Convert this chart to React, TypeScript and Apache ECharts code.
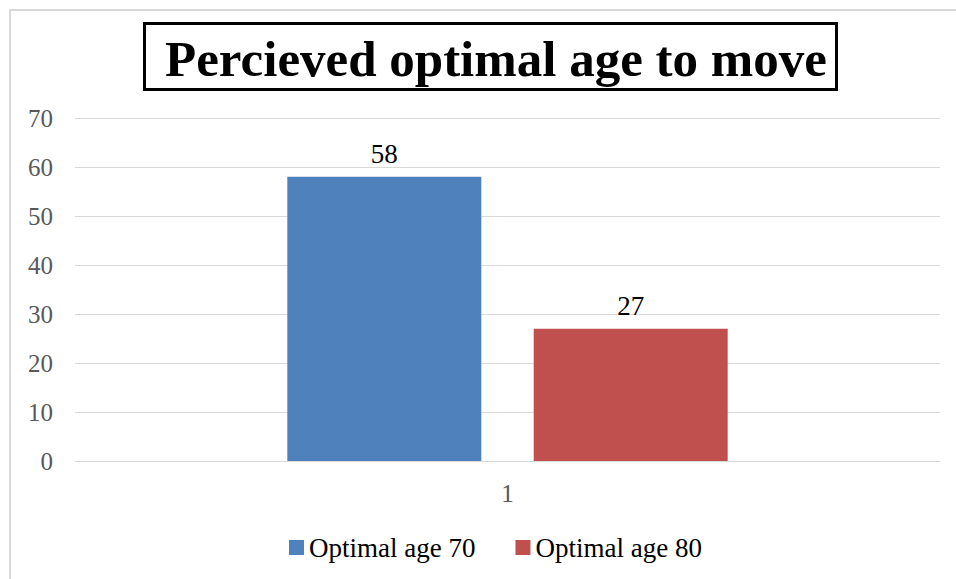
import React, { useEffect, useRef } from "react";
import * as echarts from "echarts";

const titleText = "Percieved optimal age to move";
const categories = ["1"];
const seriesNames = ["Optimal age 70", "Optimal age 80"];
const age70Values = [58];
const age80Values = [27];
const yTicks = { min: 0, max: 70, interval: 10 };

const SERIF = "'Liberation Serif', 'DejaVu Serif', serif";

export default function App() {
  const ref = useRef<HTMLDivElement>(null);

  useEffect(() => {
    if (!ref.current) return;
    const chart = echarts.init(ref.current, undefined, { renderer: "svg" });
    chart.setOption({
      animation: false,
      backgroundColor: "#ffffff",
      title: {
        text: titleText,
        left: 491,
        top: 28,
        textAlign: "center",
        textStyle: {
          fontFamily: SERIF,
          fontWeight: "bold",
          fontSize: 51,
          color: "#000000",
        },
      },
      graphic: [
        {
          type: "rect",
          shape: { x: 10, y: 10, width: 960, height: 600 },
          style: { fill: "none", stroke: "#d9d9d9", lineWidth: 2 },
          silent: true,
        },
        {
          type: "rect",
          shape: { x: 144.5, y: 23.5, width: 692, height: 66 },
          style: { fill: "none", stroke: "#000000", lineWidth: 3 },
          silent: true,
        },
      ],
      legend: {
        data: seriesNames,
        left: 284,
        top: 529,
        itemWidth: 15,
        itemHeight: 15,
        itemGap: 40,
        icon: "rect",
        textStyle: { fontFamily: SERIF, fontSize: 27, color: "#000000" },
      },
      grid: { left: 75, right: 16, top: 118, bottom: 118, containLabel: false },
      xAxis: {
        type: "category",
        data: categories,
        axisLine: { show: true, lineStyle: { color: "#d9d9d9", width: 1 } },
        axisTick: { show: false },
        axisLabel: {
          margin: 20,
          fontFamily: SERIF,
          fontSize: 25,
          color: "#595959",
        },
      },
      yAxis: {
        type: "value",
        min: yTicks.min,
        max: yTicks.max,
        interval: yTicks.interval,
        axisLine: { show: false },
        axisTick: { show: false },
        splitLine: { lineStyle: { color: "#d9d9d9", width: 1 } },
        axisLabel: {
          margin: 22,
          fontFamily: SERIF,
          fontSize: 25,
          color: "#595959",
        },
      },
      series: [
        {
          name: seriesNames[0],
          type: "bar",
          data: age70Values,
          barWidth: 194,
          barGap: "27%",
          itemStyle: { color: "#4f81bd" },
          label: {
            show: true,
            position: "top",
            distance: 9,
            fontFamily: SERIF,
            fontSize: 27,
            color: "#000000",
          },
        },
        {
          name: seriesNames[1],
          type: "bar",
          data: age80Values,
          barWidth: 194,
          barGap: "27%",
          itemStyle: { color: "#c0504d" },
          label: {
            show: true,
            position: "top",
            distance: 9,
            fontFamily: SERIF,
            fontSize: 27,
            color: "#000000",
          },
        },
      ],
    });
    return () => chart.dispose();
  }, []);

  return (
    <div
      ref={ref}
      style={{ position: "fixed", left: 0, top: 0, width: 956, height: 579 }}
    />
  );
}
